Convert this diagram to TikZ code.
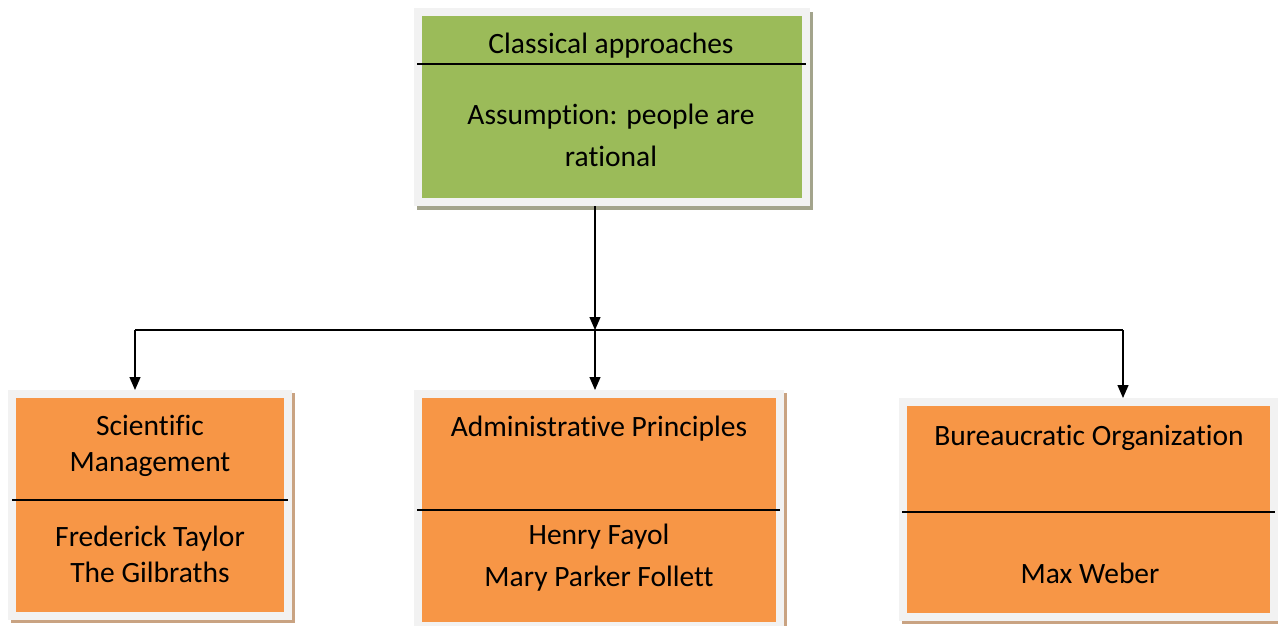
\documentclass[tikz,border=0pt]{standalone}
\usepackage{fontspec}
\setmainfont{Carlito}[Ligatures=NoCommon]
\usepackage{tikz}
\usetikzlibrary{arrows.meta,shadows}

\definecolor{boxgreen}{HTML}{9BBB59}
\definecolor{boxorange}{HTML}{F79646}
\definecolor{framegray}{HTML}{F2F2F2}
\definecolor{greenshade}{HTML}{A3A48C}
\definecolor{orangeshade}{HTML}{C9A382}

\tikzset{
  framebox/.style={rectangle, draw=framegray, line width=8pt, inner sep=0pt},
  topbox/.style={framebox, fill=boxgreen,
    general shadow={draw=greenshade, line width=8pt, shadow xshift=3pt, shadow yshift=-4pt}},
  subbox/.style={framebox, fill=boxorange,
    general shadow={draw=orangeshade, line width=8pt, shadow xshift=3pt, shadow yshift=-3pt}},
  txt/.style={align=center, font=\fontsize{29.5}{36}\selectfont, inner sep=0pt},
  conn/.style={line width=1.3pt},
  arr/.style={conn, -{Triangle[width=11pt,length=13pt]}}
}

\begin{document}
\begin{tikzpicture}[x=1pt,y=-1pt]
      \useasboundingbox (0,0) rectangle (1278,626);

      % boxes
      \node[topbox, minimum width=388pt, minimum height=190pt] (classic) at (612,107) {};
      \node[subbox, minimum width=276pt, minimum height=222pt] (sci) at (150,505) {};
      \node[subbox, minimum width=362pt, minimum height=232pt] (adm) at (599,510) {};
      \node[subbox, minimum width=371pt, minimum height=215pt] (bur) at (1088.5,509.5) {};

      % dividers
      \draw[conn] ([xshift=3pt]classic.west |- 0,64) -- ([xshift=-4pt]classic.east |- 0,64);
      \draw[conn] ([xshift=4pt]sci.west |- 0,500) -- ([xshift=-4pt]sci.east |- 0,500);
      \draw[conn] ([xshift=3pt]adm.west |- 0,510) -- ([xshift=-4pt]adm.east |- 0,510);
      \draw[conn] ([xshift=3pt]bur.west |- 0,512) -- ([xshift=-3pt]bur.east |- 0,512);

      % texts
      \node[txt] (classtitle) at (611,46) {Classical approaches};
      \node[txt] (classnote) at (611,135) {Assumption: people are\\[6pt]rational};
      \node[txt] (scititle) at (150,446) {Scientific\\Management};
      \node[txt] (scinames) at (150,554) {Frederick Taylor\\The Gilbraths};
      \node[txt] (admtitle) at (599,429) {Administrative Principles};
      \node[txt] (admnames) at (599,558) {Henry Fayol\\[6pt]Mary Parker Follett};
      \node[txt] (burtitle) at (1089,438) {Bureaucratic Organization};
      \node[txt] (burnames) at (1090,573) {Max Weber};

      % connectors
      \coordinate (join) at (595,330);
      \coordinate (joinl) at (135,330);
      \coordinate (joinr) at (1123,330);
      \draw[arr] (classic.south -| join) -- (join);
      \draw[conn] (joinl) -- (joinr);
      \draw[arr] (joinl) -- (joinl |- sci.north);
      \draw[arr] (join) -- (join |- adm.north);
      \draw[arr] (joinr) -- (joinr |- bur.north);

\end{tikzpicture}
\end{document}
